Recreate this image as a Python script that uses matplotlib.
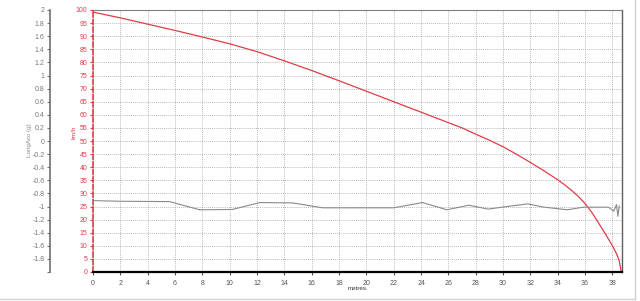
import matplotlib
matplotlib.use('Agg')
import matplotlib.pyplot as plt
from matplotlib.lines import Line2D

plt.rcParams['font.family'] = ['Liberation Sans', 'DejaVu Sans']

# speed trace (km/h) against distance (metres)
dist = [0, 2, 4, 6, 8, 10, 12, 14, 16, 18, 20, 22, 24, 26, 27, 28, 29, 30, 31, 32, 33, 34, 34.5,
        35, 35.5, 36, 36.5, 37, 37.5, 38, 38.3, 38.5, 38.65]
speed = [99.2, 97, 94.6, 92.2, 89.7, 87.1, 84.1, 80.6, 76.9, 73, 69, 65, 61, 57, 55, 52.6, 50.3,
         47.8, 44.9, 41.8, 38.6, 35.2, 33.3, 31.2, 28.9, 26.1, 22.7, 18.6, 14.4, 10, 7, 4.2, 0]

# longitudinal acceleration (g)
acc_dist = [0, 2, 5.6, 7.8, 10.2, 12.2, 14.6, 16.8, 19.5, 22, 24.1, 25.9, 27.5, 28.9, 30.3, 31.8,
            33, 34.7, 35.9, 37.7, 38.1, 38.3, 38.4, 38.5]
acc = [-0.91, -0.92, -0.925, -1.05, -1.045, -0.94, -0.945, -1.02, -1.02, -1.02, -0.94, -1.05,
       -0.98, -1.04, -1.0, -0.96, -1.01, -1.05, -1.01, -1.01, -1.07, -0.97, -1.15, -0.99]

speed_ticks = list(range(0, 101, 5))
acc_ticks = [round(-2 + 0.2 * i, 1) for i in range(21)]
acc_labels = ['' if t == -2 else ('%g' % t) for t in acc_ticks]
x_ticks = list(range(0, 39, 2))

red = '#e03c48'
W, H = 640, 301
fig = plt.figure(figsize=(6.4, 3.01), dpi=100)
ax = fig.add_axes([93 / W, 1 - 272 / H, (622 - 93) / W, (272 - 10) / H])

ax.plot(dist, speed, color=red, lw=0.9)
ax.set_xlim(0, 38.7)
ax.set_ylim(0, 100)
ax.set_xticks(x_ticks)
ax.set_yticks(speed_ticks)
ax.tick_params(axis='x', labelsize=5, colors='#555555', length=2, pad=4)
ax.tick_params(axis='y', labelsize=5, colors=red, labelcolor=red, length=2, pad=2)
ax.grid(True, color='#a0a0a0', ls=(0, (1, 1.5)), lw=0.6)

ax.spines['bottom'].set_color('black')
ax.spines['bottom'].set_linewidth(1.6)
ax.spines['top'].set_color('#808080')
ax.spines['right'].set_color('#606060')
ax.spines['right'].set_linewidth(1.0)
ax.spines['left'].set_color(red)
ax.spines['left'].set_linestyle((0, (3, 1.5)))
ax.spines['left'].set_linewidth(1.2)

ax2 = ax.twinx()
ax2.plot(acc_dist, acc, color='#8a8a8a', lw=0.8)
ax2.set_ylim(-2, 2)
ax2.set_yticks(acc_ticks)
ax2.set_yticklabels(acc_labels)
ax2.yaxis.set_ticks_position('left')
ax2.spines['left'].set_visible(True)
ax2.spines['left'].set_position(('axes', -43 / (622 - 93)))
ax2.spines['left'].set_color('#707070')
ax2.spines['left'].set_linewidth(1.2)
ax2.spines['right'].set_visible(False)
ax2.spines['top'].set_visible(False)
ax2.spines['bottom'].set_visible(False)
ax2.tick_params(axis='y', labelsize=5, colors='#707070', labelcolor='#777777', length=2, pad=2)

fig.text(29 / W, 1 - 140 / H, 'LongAcc (g)', rotation=90, ha='center', va='center',
         fontsize=4.5, color='#888888')
fig.text(74 / W, 1 - 132 / H, 'km/h', rotation=90, ha='center', va='center',
         fontsize=4.5, color=red)
fig.text(358 / W, 1 - 289 / H, 'metres.', ha='center', va='center', fontsize=4.5, color='#333333')

# light frame around the chart area
fig.add_artist(Line2D([0, 635 / W], [1 - 299 / H, 1 - 299 / H], color='#d0d0d0', lw=1))
fig.add_artist(Line2D([635 / W, 635 / W], [1 - 299 / H, 1.0], color='#d0d0d0', lw=1))

fig.savefig('out.png', dpi=100)
